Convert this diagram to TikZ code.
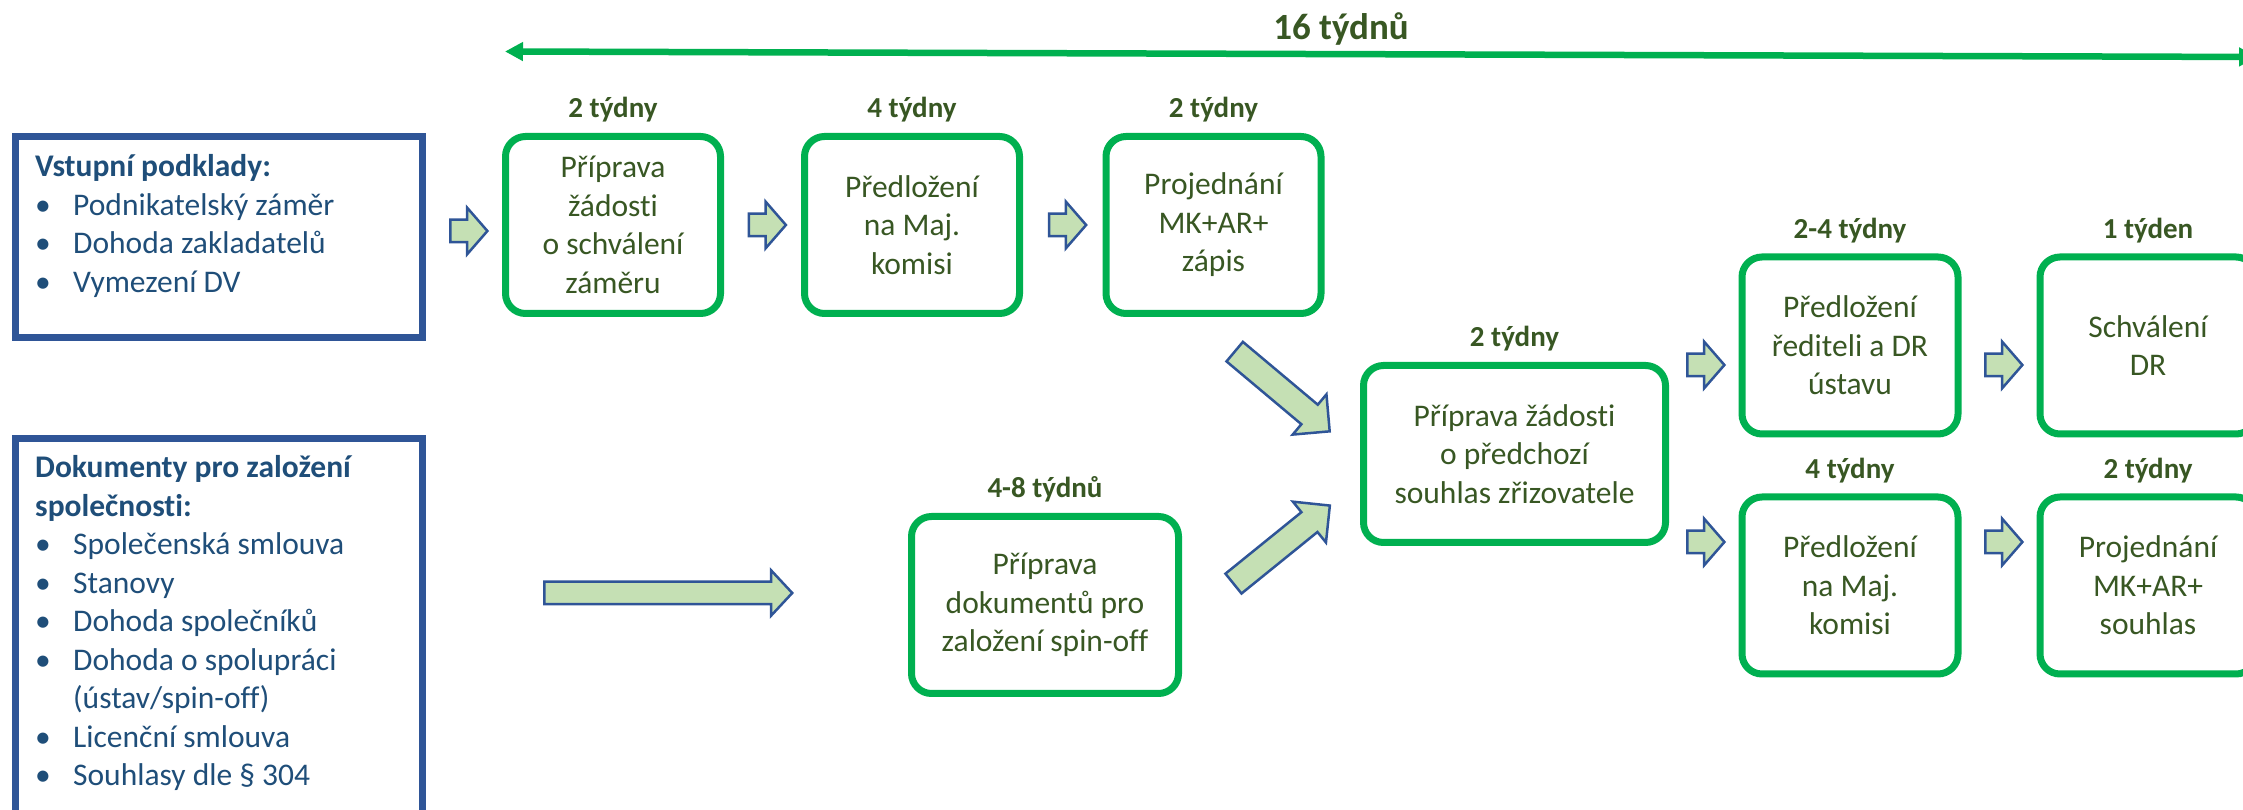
\documentclass[tikz,border=0pt]{standalone}
\usepackage{fontspec}
\setmainfont{Carlito}[Ligatures=NoCommon]
\usetikzlibrary{calc,arrows.meta,positioning,shapes.arrows}

\definecolor{boxgreen}{HTML}{00B050}
\definecolor{txtgreen}{HTML}{385723}
\definecolor{frameblue}{HTML}{2F5597}
\definecolor{txtblue}{HTML}{1F4E79}
\definecolor{arrowfill}{HTML}{C5E0B4}

\newcommand{\itm}{\makebox[38pt][l]{\textbullet}}

\begin{document}
\begin{tikzpicture}[x=1pt, y=1pt,
 stepbox/.style={draw=boxgreen, line width=7pt, rounded corners=20pt, minimum width=215pt, minimum height=177pt, align=center, text=txtgreen, font=\fontsize{31.5}{38.5}\selectfont, inner sep=0pt},
 dur/.style={text=txtgreen, font=\fontsize{29}{35}\selectfont\bfseries, inner sep=0pt},
 inframe/.style={draw=frameblue, line width=7pt, minimum width=407pt},
 listtext/.style={text=txtblue, font=\fontsize{31.5}{38.5}\selectfont, inner sep=0pt, anchor=base west},
 blk/.style={single arrow, draw=frameblue, fill=arrowfill, line width=2.5pt, inner xsep=0pt, inner ysep=10pt, single arrow head extend=12pt, single arrow tip angle=98, minimum height=37pt},
 bigblk/.style={blk, inner ysep=11.5pt, single arrow head extend=13.5pt, single arrow tip angle=90, minimum height=124pt},
]
 \useasboundingbox (0,0) rectangle (2243,810);

 % Total span
 \coordinate (span-l) at (505,758.5);
 \coordinate (span-r) at (2257,753);
 \draw[boxgreen, line width=6.5pt, {Triangle[length=18pt,width=18pt]}-{Triangle[length=18pt,width=18pt]}] (span-l) -- (span-r);
 \node[dur, font=\fontsize{37}{44}\selectfont\bfseries, anchor=base] (total) at (1341,770) {16 týdnů};

 % Input frames
 \node[inframe, minimum height=201pt] (inbox) at (219,573) {};
 \node[inframe, minimum height=411.5pt] (docbox) at (219,165.75) {};
 \node[listtext] (inputs) at (35,633) {\begin{tabular}[t]{@{}l@{}}
 \textbf{Vstupní podklady:}\\
 \itm Podnikatelský záměr\\
 \itm Dohoda zakladatelů\\
 \itm Vymezení DV
 \end{tabular}};
 \node[listtext] (docs) at (35,332) {\begin{tabular}[t]{@{}l@{}}
 \textbf{Dokumenty pro založení}\\
 \textbf{společnosti:}\\
 \itm Společenská smlouva\\
 \itm Stanovy\\
 \itm Dohoda společníků\\
 \itm Dohoda o spolupráci\\
 \hspace*{38pt}(ústav/spin-off)\\
 \itm Licenční smlouva\\
 \itm Souhlasy dle § 304
 \end{tabular}};

 % First row
 \node[stepbox] (prep) at (613,585) {Příprava\\žádosti\\o schválení\\záměru};
 \node[stepbox] (commission) at (912,585) {Předložení\\na Maj.\\komisi};
 \node[stepbox] (hearing) at (1213.5,585) {Projednání\\MK+AR+\\zápis};
 \node[dur, above=15pt of prep, anchor=base] {2 týdny};
 \node[dur, above=15pt of commission, anchor=base] {4 týdny};
 \node[dur, above=15pt of hearing, anchor=base] {2 týdny};

 \node[blk] (a1) at ($(inbox.east)!0.5!(prep.west)$) {};
 \node[blk] (a2) at ($(prep.east)!0.5!(commission.west)$) {};
 \node[blk] (a3) at ($(commission.east)!0.5!(hearing.west)$) {};

 % Spin-off documents
 \node[stepbox, minimum width=267pt] (spinoff) at (1045,205) {Příprava\\dokumentů pro\\založení spin-off};
 \node[dur, above=15pt of spinoff, anchor=base] {4-8 týdnů};
 \node[blk, single arrow head extend=11.5pt, single arrow tip angle=94, minimum height=248pt] (a4) at (663,217) {};

 % Request to founder
 \node[stepbox, minimum width=302pt] (request) at (1514.5,356) {Příprava žádosti\\o předchozí\\souhlas zřizovatele};
 \node[dur, above=15pt of request, anchor=base] {2 týdny};
 \node[bigblk, rotate=-40] (d1) at (1277.3,422.6) {};
 \node[bigblk, rotate=39] (d2) at (1276.7,261.4) {};

 % Right branches
 \node[stepbox, minimum width=216pt] (director) at (1850,464.5) {Předložení\\řediteli a DR\\ústavu};
 \node[stepbox, minimum width=216pt] (approval) at (2148,464.5) {Schválení\\DR};
 \node[stepbox, minimum width=216pt] (commission2) at (1850,224.5) {Předložení\\na Maj.\\komisi};
 \node[stepbox, minimum width=216pt] (hearing2) at (2148,224.5) {Projednání\\MK+AR+\\souhlas};
 \node[dur, above=15pt of director, anchor=base] {2-4 týdny};
 \node[dur, above=15pt of approval, anchor=base] {1 týden};
 \node[dur, above=15pt of commission2, anchor=base] {4 týdny};
 \node[dur, above=15pt of hearing2, anchor=base] {2 týdny};

 \node[blk] (a5) at (1701,445) {};
 \node[blk] (a6) at (1701,268) {};
 \node[blk] (a7) at (1999,445) {};
 \node[blk] (a8) at (1999,268) {};
\end{tikzpicture}
\end{document}
